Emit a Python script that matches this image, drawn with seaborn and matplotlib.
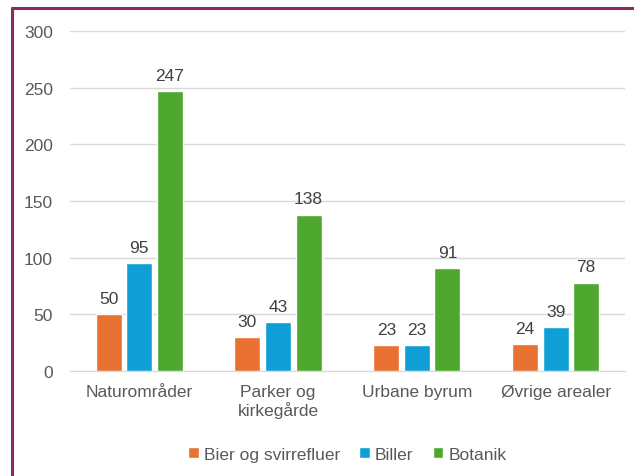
import pandas as pd
import seaborn as sns
import matplotlib.pyplot as plt
from matplotlib.lines import Line2D

# data
categories = ["Naturområder", "Parker og\nkirkegårde", "Urbane byrum", "Øvrige arealer"]
series = ["Bier og svirrefluer", "Biller", "Botanik"]
bier = [50, 30, 23, 24]
biller = [95, 43, 23, 39]
botanik = [247, 138, 91, 78]
colors = ["#E97132", "#0F9ED5", "#4EA72E"]

df = pd.DataFrame({
    "kategori": categories * 3,
    "serie": [series[0]] * 4 + [series[1]] * 4 + [series[2]] * 4,
    "antal": bier + biller + botanik,
})

sns.set_style("white")
plt.rcParams["font.family"] = ["Liberation Sans", "DejaVu Sans"]

fig = plt.figure(figsize=(6.34, 4.77), dpi=100)
ax = fig.add_axes([0.110, 0.220, 0.876, 0.713])

sns.barplot(data=df, x="kategori", y="antal", hue="serie", palette=colors,
            saturation=1, width=0.66, gap=0.15, ax=ax, legend=True)

for cont in ax.containers:
    ax.bar_label(cont, padding=6, fontsize=12.5, color="#404040")

ax.set_ylim(0, 300)
ax.set_yticks(range(0, 301, 50))
ax.yaxis.grid(True, color="#d9d9d9", linewidth=1)
ax.set_axisbelow(True)
for s in ["top", "right", "left"]:
    ax.spines[s].set_visible(False)
ax.spines["bottom"].set_color("#d9d9d9")
ax.tick_params(axis="both", length=0, labelsize=12.5, labelcolor="#595959")
ax.tick_params(axis="y", pad=12)
ax.tick_params(axis="x", pad=9)
ax.set_xlabel("")
ax.set_ylabel("")

handles, labels = ax.get_legend_handles_labels()
ax.legend(handles, labels, loc="center", bbox_to_anchor=(0.5, -0.245), ncol=3,
          frameon=False, fontsize=12.5, handlelength=0.6, handleheight=0.6,
          handletextpad=0.3, columnspacing=1.1, labelcolor="#595959")

# maroon border lines on the left and top
border = "#8B2A5E"
fig.add_artist(Line2D([0.019, 0.019], [0, 0.981], color=border, linewidth=2.2,
                      transform=fig.transFigure))
fig.add_artist(Line2D([0.019, 1.0], [0.981, 0.981], color=border, linewidth=2.2,
                      transform=fig.transFigure))

fig.savefig("out.png", dpi=100)
